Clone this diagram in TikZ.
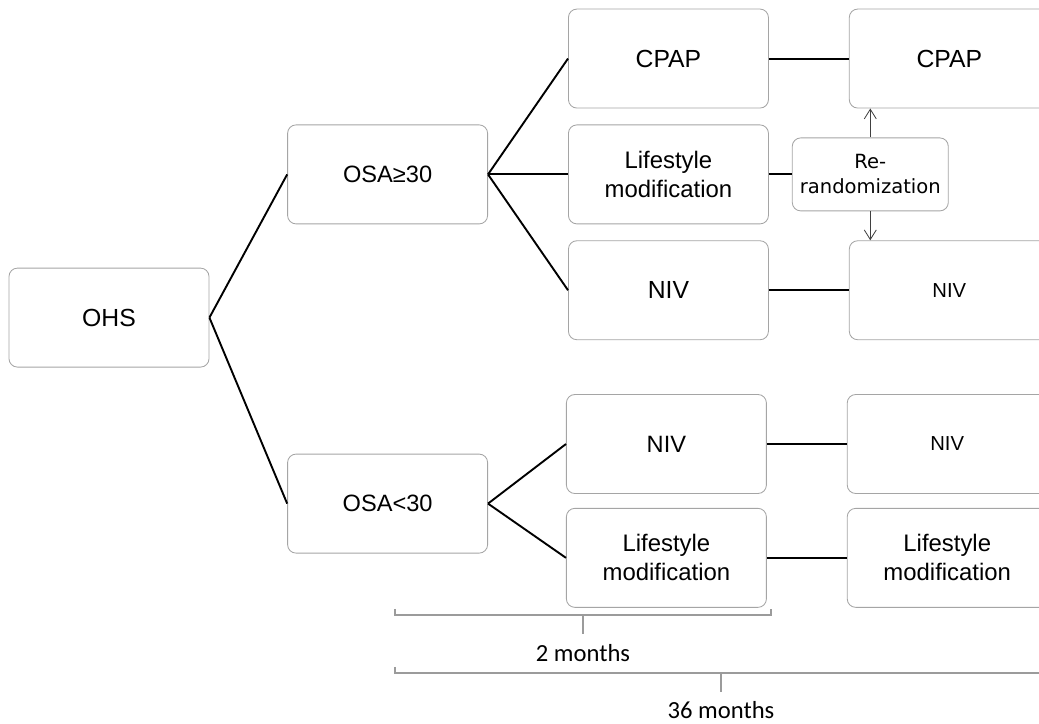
\documentclass[tikz,border=0pt]{standalone}
\usepackage{fontspec}
\setmainfont{Liberation Sans}
\newfontfamily\rrfont{DejaVu Sans}
\newfontfamily\monthsfont{Carlito}
\usetikzlibrary{arrows.meta,positioning}
\definecolor{boxgray}{RGB}{165,165,165}
\definecolor{bracegray}{RGB}{155,155,155}

\begin{document}
\begin{tikzpicture}[
    node distance=0.4cm and 2cm,
    box/.style={rectangle, draw=boxgray, fill=white, rounded corners=6pt,
                minimum width=5cm, minimum height=2.475cm, align=center,
                line width=0.6pt, font=\fontsize{17}{20.5}\selectfont},
    bigtxt/.style={font=\fontsize{17.6}{21}\selectfont},
    midtxt/.style={font=\fontsize{16.8}{20}\selectfont},
    smalltxt/.style={font=\fontsize{14.4}{18}\selectfont},
    rrbox/.style={box, minimum width=3.9cm, minimum height=1.825cm,
                  font=\rrfont\fontsize{13.9}{17.8}\selectfont},
    link/.style={line width=1.35pt, black},
    arr/.style={-{Straight Barb[length=2.4mm, width=3mm]}, line width=0.6pt, black!75},
    brace/.style={line width=2pt, bracegray},
    months/.style={font=\monthsfont\fontsize{17.5}{20}\selectfont}
]
\clip (0,0) rectangle (25.975,-18.1);

% Column 1 and 2
\node[box, bigtxt] (ohs) at (2.725,-7.94) {OHS};
\node[box, midtxt] (osahi) at (9.69,-4.36) {OSA≥30};
\node[box, midtxt] (osalo) at (9.69,-12.59) {OSA<30};

% Column 3: two months
\node[box, right=2cm of osahi] (lifehi) {Lifestyle\\modification};
\node[box, bigtxt, above=of lifehi] (cpap) {CPAP};
\node[box, bigtxt, below=of lifehi] (nivhi) {NIV};
\node[box, midtxt] (nivlo) at (16.66,-11.1) {NIV};
\node[box, below=0.35cm of nivlo] (lifelo) {Lifestyle\\modification};

% Column 4: thirty-six months
\node[box, bigtxt, right=of cpap] (cpapend) {CPAP};
\node[box, smalltxt, right=of nivhi] (nivhiend) {NIV};
\node[box, smalltxt, right=of nivlo] (nivloend) {NIV};
\node[box, right=of lifelo] (lifeloend) {Lifestyle\\modification};
\node[rrbox, right=0.575cm of lifehi] (rerand) {Re-\\randomization};

% Links
\draw[link] (ohs.east) -- (osahi.west);
\draw[link] (ohs.east) -- (osalo.west);
\draw[link] (osahi.east) -- (cpap.west);
\draw[link] (osahi.east) -- (lifehi.west);
\draw[link] (osahi.east) -- (nivhi.west);
\draw[link] (osalo.east) -- (nivlo.west);
\draw[link] (osalo.east) -- (lifelo.west);
\draw[link] (cpap) -- (cpapend);
\draw[link] (lifehi) -- (rerand);
\draw[link] (nivhi) -- (nivhiend);
\draw[link] (nivlo) -- (nivloend);
\draw[link] (lifelo) -- (lifeloend);

% Re-randomization arrows
\draw[arr] (rerand.north) -- (rerand.north |- cpapend.south);
\draw[arr] (rerand.south) -- (rerand.south |- nivhiend.north);

% Time spans
\node[months] (twomonths) at (14.575,-16.33) {2 months};
\node[months] (allmonths) at (18.025,-17.75) {36 months};
\draw[brace] (9.875,-15.22) -- (9.875,-15.375) -- (19.275,-15.375) -- (19.275,-15.22);
\draw[brace] (twomonths.north |- 0,-15.375) -- ++(0,-0.47);
\draw[brace] (9.875,-16.67) -- (9.875,-16.825) -- (26.175,-16.825) -- (26.175,-16.67);
\draw[brace] (allmonths.north |- 0,-16.825) -- ++(0,-0.47);
\end{tikzpicture}
\end{document}
